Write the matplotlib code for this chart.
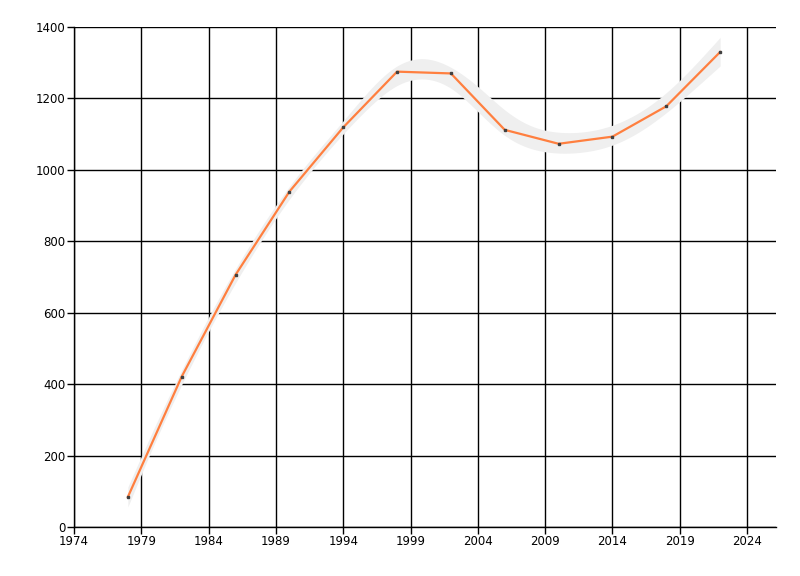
import numpy as np
import matplotlib
matplotlib.use("Agg")
import matplotlib.pyplot as plt

# data
years = [1978, 1982, 1986, 1990, 1994, 1998, 2002, 2006, 2010, 2014, 2018, 2022]
values = [84, 421, 706, 939, 1119, 1275, 1270, 1112, 1073, 1093, 1178, 1330]

# smoothed band: centre and half width
band_years = [1978, 1980, 1982, 1984, 1986, 1988, 1990, 1992, 1994, 1996, 1998, 2000,
              2002, 2004, 2006, 2008, 2010, 2012, 2014, 2016, 2018, 2020, 2022]
band_mid = [84, 262, 421, 570, 706, 828, 939, 1033, 1119, 1205, 1274, 1292,
            1266, 1200, 1125, 1085, 1073, 1076, 1093, 1130, 1185, 1255, 1331]
band_half = [28, 22, 20, 20, 20, 19, 18, 17, 17, 24, 28, 29,
             27, 37, 37, 31, 29, 28, 28, 27, 27, 32, 40]

x_ticks = list(range(1974, 2025, 5))
y_ticks = list(range(0, 1401, 200))

fig = plt.figure(figsize=(8, 5.76), dpi=100)
ax = fig.add_axes([74/800, 1-527/576, (776-74)/800, (527-27)/576])

# smooth band
xf = np.linspace(band_years[0], band_years[-1], 600)
mid = np.interp(xf, band_years, band_mid)
half = np.interp(xf, band_years, band_half)
k = np.exp(-0.5 * (np.arange(-40, 41) / 14.0) ** 2)
k /= k.sum()
def smooth(a):
    pad = np.concatenate([2*a[0] - a[40:0:-1], a, 2*a[-1] - a[-2:-42:-1]])
    return np.convolve(pad, k, mode="valid")
mid_s = smooth(mid)
half_s = smooth(half)
ax.fill_between(xf, mid_s - half_s, mid_s + half_s, color="#efefef", lw=0, zorder=3)

ax.plot(years, values, color="#ff7f3f", lw=1.6, zorder=4)
ax.plot(years, values, ls="none", marker="s", ms=2, color="#404040", zorder=5)

ax.set_xlim(1974, 2026.15)
ax.set_ylim(0, 1400)
ax.set_xticks(x_ticks)
ax.set_yticks(y_ticks)
ax.grid(True, color="black", lw=1, zorder=1)
ax.set_axisbelow(True)
for s in ["top", "right"]:
    ax.spines[s].set_visible(False)
for s in ["left", "bottom"]:
    ax.spines[s].set_color("black")
    ax.spines[s].set_linewidth(1)
ax.tick_params(axis="both", colors="black", labelsize=8.5, length=5, width=1, pad=1)

fig.savefig("out.png", dpi=100)
